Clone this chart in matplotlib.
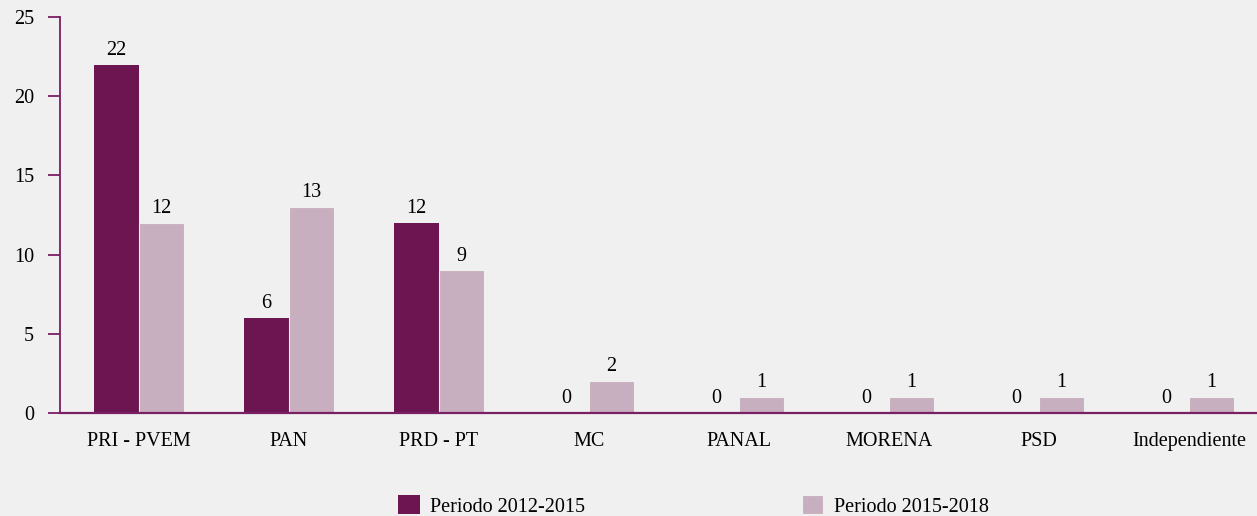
import numpy as np
import matplotlib
matplotlib.use('Agg')
import matplotlib.pyplot as plt

# Datos
partidos = ['PRI - PVEM', 'PAN', 'PRD - PT', 'MC', 'PANAL', 'MORENA', 'PSD', 'Independiente']
periodo_2012_2015 = [22, 6, 12, 0, 0, 0, 0, 0]
periodo_2015_2018 = [12, 13, 9, 2, 1, 1, 1, 1]
etiquetas_series = ['Periodo 2012-2015', 'Periodo 2015-2018']

color_oscuro = '#6C1551'
color_claro = '#C8AFBF'
color_eje = '#7A1F63'
fondo = '#F0F0F0'
tam = 14.5

plt.rcParams['font.family'] = ['Liberation Serif', 'DejaVu Serif']
plt.rcParams['font.size'] = tam

fig = plt.figure(figsize=(12.57, 5.16), dpi=100, facecolor=fondo)
ax = fig.add_axes([60 / 1257, 1 - 413 / 516, 1 - 60 / 1257, (413 - 17) / 516])
ax.set_facecolor(fondo)

x = np.arange(len(partidos))
ancho = 0.3

barras1 = ax.bar(x - ancho / 2, periodo_2012_2015, ancho, color=color_oscuro,
                 label=etiquetas_series[0])
barras2 = ax.bar(x + ancho / 2, periodo_2015_2018, ancho, color=color_claro,
                 label=etiquetas_series[1], edgecolor=fondo, linewidth=0.8)

# Etiquetas de valores
for barras in (barras1, barras2):
    ax.bar_label(barras, labels=[str(int(b.get_height())) for b in barras],
                 padding=3.5, fontsize=tam, color='black')

ax.set_xlim(-0.527, 7.453)
ax.set_ylim(0, 25)
ax.set_yticks([0, 5, 10, 15, 20, 25])
ax.set_xticks(x)
ax.set_xticklabels(partidos)

for lado in ['top', 'right']:
    ax.spines[lado].set_visible(False)
ax.spines['left'].set_color(color_eje)
ax.spines['bottom'].set_color(color_eje)
ax.spines['left'].set_linewidth(1.3)
ax.spines['bottom'].set_linewidth(1.6)

ax.tick_params(axis='y', length=8.6, width=1.3, color=color_eje, pad=10, labelsize=tam)
ax.tick_params(axis='x', length=0, pad=14, labelsize=tam)

# Leyenda
fig.legend(handles=[barras1, barras2], labels=etiquetas_series, loc='center left',
           bbox_to_anchor=(398 / 1257, 1 - 506 / 516), ncol=2, frameon=False,
           handlelength=1.09, handleheight=1.09, handletextpad=0.5,
           columnspacing=10.75, borderpad=0, borderaxespad=0, fontsize=tam)

plt.savefig('out.png', dpi=100, facecolor=fondo)
plt.close()
